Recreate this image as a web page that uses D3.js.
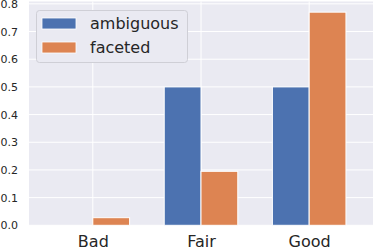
<!DOCTYPE html>
<html>
<head>
<meta charset="utf-8">
<script src="https://cdn.jsdelivr.net/npm/d3@7"></script>
<style>
  body { margin: 0; background: #fff; }
  svg { display: block; font-family: "DejaVu Sans", sans-serif; }
</style>
</head>
<body>
<svg id="chart" width="374" height="252"></svg>
<script>
var categories = ["Bad", "Fair", "Good"];
var seriesNames = ["ambiguous", "faceted"];
var ambiguous = [0.0, 0.5, 0.5];
var faceted = [0.0275, 0.195, 0.77];
var yTicks = [0.0, 0.1, 0.2, 0.3, 0.4, 0.5, 0.6, 0.7, 0.8];

var colors = ["#4c72b0", "#dd8452"];
var values = [ambiguous, faceted];

var plotLeft = 29, plotRight = 373, plotTop = 1.5, plotBottom = 225.3;
var barW = 0.34;

var svg = d3.select("#chart");

// x is a linear scale over category index, like matplotlib bars
var x = d3.scaleLinear().domain([-0.59, 2.59]).range([plotLeft, plotRight]);
var y = d3.scaleLinear().domain([0, 0.8085]).range([plotBottom, plotTop]);

svg.append("rect")
    .attr("x", plotLeft).attr("y", plotTop)
    .attr("width", plotRight - plotLeft).attr("height", plotBottom - plotTop)
    .attr("fill", "#eaeaf2");

// grid
svg.append("g").selectAll("line")
    .data(yTicks).enter().append("line")
    .attr("x1", plotLeft).attr("x2", plotRight)
    .attr("y1", function(d) { return y(d); })
    .attr("y2", function(d) { return y(d); })
    .attr("stroke", "#fff").attr("stroke-width", 1);

svg.append("g").selectAll("line")
    .data(categories).enter().append("line")
    .attr("x1", function(d, i) { return x(i); })
    .attr("x2", function(d, i) { return x(i); })
    .attr("y1", plotTop).attr("y2", plotBottom)
    .attr("stroke", "#fff").attr("stroke-width", 1);

// bars
values.forEach(function(series, s) {
    svg.append("g").selectAll("rect")
        .data(series).enter().append("rect")
        .attr("x", function(d, i) { return x(i + (s - 1) * barW); })
        .attr("width", x(barW) - x(0))
        .attr("y", function(d) { return y(d); })
        .attr("height", function(d) { return y(0) - y(d); })
        .attr("fill", colors[s])
        .attr("stroke", function(d) { return d > 0 ? "#fff" : "none"; })
        .attr("stroke-width", 1);
});

// y axis
var yAxis = d3.axisLeft(y)
    .tickValues(yTicks)
    .tickSize(0)
    .tickPadding(11)
    .tickFormat(d3.format(".1f"));
var gy = svg.append("g")
    .attr("transform", "translate(" + plotLeft + ",0)")
    .call(yAxis);
gy.select(".domain").remove();
gy.selectAll("text")
    .attr("fill", "#262626")
    .style("font-size", "11px")
    .style("font-family", "DejaVu Sans");

// x axis
var xAxis = d3.axisBottom(x)
    .tickValues([0, 1, 2])
    .tickSize(0)
    .tickPadding(10)
    .tickFormat(function(d) { return categories[d]; });
var gx = svg.append("g")
    .attr("transform", "translate(0," + plotBottom + ")")
    .call(xAxis);
gx.select(".domain").remove();
gx.selectAll("text")
    .attr("fill", "#262626")
    .style("font-size", "16px")
    .style("font-family", "DejaVu Sans");

// legend
var legend = svg.append("g");
legend.append("rect")
    .attr("x", 36.5).attr("y", 10.5)
    .attr("width", 151).attr("height", 52)
    .attr("rx", 3)
    .attr("fill", "#eaeaf2")
    .attr("stroke", "#cfcfd6")
    .attr("stroke-width", 1);

seriesNames.forEach(function(name, i) {
    legend.append("rect")
        .attr("x", 42).attr("y", 18 + i * 24)
        .attr("width", 34).attr("height", 11)
        .attr("fill", colors[i])
        .attr("stroke", "#fff").attr("stroke-width", 0.8);
    legend.append("text")
        .attr("x", 90).attr("y", 29 + i * 24)
        .attr("fill", "#262626")
        .style("font-size", "16px")
        .text(name);
});
</script>
</body>
</html>
